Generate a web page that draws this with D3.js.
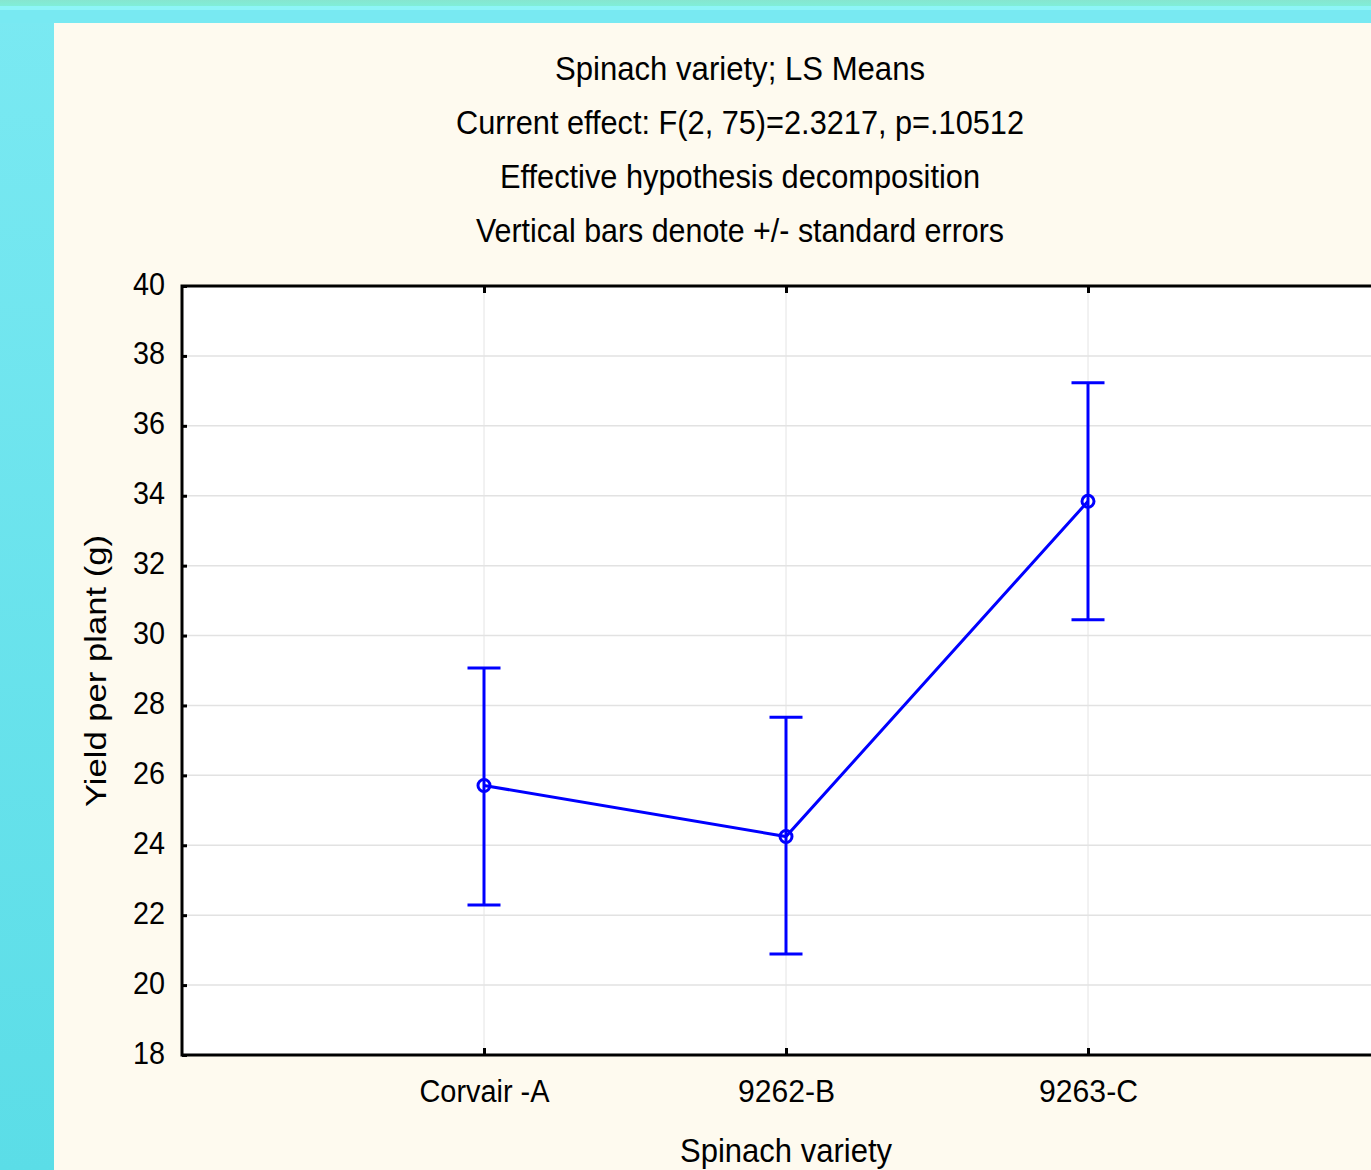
<!DOCTYPE html>
<html><head><meta charset="utf-8">
<script src="https://cdn.jsdelivr.net/npm/d3@7"></script>
<style>
html,body{margin:0;padding:0;overflow:hidden;background:#fff;}
svg{display:block;}
text{font-family:"Liberation Sans",Arial,sans-serif;fill:#000;}
</style></head>
<body>
<script>
const categories = ["Corvair -A", "9262-B", "9263-C"];
const means = [25.71, 24.25, 33.84];
const upper = [29.07, 27.66, 37.23];
const lower = [22.29, 20.89, 30.45];
const yTicks = [18, 20, 22, 24, 26, 28, 30, 32, 34, 36, 38, 40];
const titleLines = [
  "Spinach variety; LS Means",
  "Current effect: F(2, 75)=2.3217, p=.10512",
  "Effective hypothesis decomposition",
  "Vertical bars denote +/- standard errors"
];
const xLabel = "Spinach variety";
const yLabel = "Yield per plant (g)";

const W = 1371, H = 1170;
const FONT = "Liberation Sans, Arial, sans-serif";
const svg = d3.select("body").append("svg").attr("width", W).attr("height", H);
const defs = svg.append("defs");
const g1 = defs.append("linearGradient").attr("id","leftg").attr("x1",0).attr("y1",0).attr("x2",0).attr("y2",1);
g1.append("stop").attr("offset","0%").attr("stop-color","#7ae9f2");
g1.append("stop").attr("offset","100%").attr("stop-color","#5bdde7");
const g2 = defs.append("linearGradient").attr("id","topg").attr("x1",0).attr("y1",0).attr("x2",0).attr("y2",1);
g2.append("stop").attr("offset","0%").attr("stop-color","#86e6cf");
g2.append("stop").attr("offset","100%").attr("stop-color","#80eed8");

// backgrounds
svg.append("rect").attr("x",0).attr("y",0).attr("width",W).attr("height",H).attr("fill","url(#leftg)");
svg.append("rect").attr("x",0).attr("y",0).attr("width",W).attr("height",6).attr("fill","url(#topg)");
svg.append("rect").attr("x",0).attr("y",6).attr("width",W).attr("height",4).attr("fill","#8ef5f7");
svg.append("rect").attr("x",0).attr("y",10).attr("width",W).attr("height",13).attr("fill","#78e9f2");
svg.append("rect").attr("x",54).attr("y",23).attr("width",W-54).attr("height",H-23).attr("fill","#fefaef");

const pL = 182, pR = 1390, pT = 286, pB = 1055;
const x = d3.scaleLinear().domain([0, 4]).range([pL, pR]);
const y = d3.scaleLinear().domain([18, 40]).range([pB, pT]);

// plot area
svg.append("rect").attr("x",pL).attr("y",pT).attr("width",pR-pL).attr("height",pB-pT).attr("fill","#fff");

// gridlines
svg.append("g").selectAll("line").data(yTicks.slice(1,-1)).join("line")
  .attr("x1",pL).attr("x2",pR).attr("y1",d=>y(d)).attr("y2",d=>y(d))
  .attr("stroke","#e2e2e2").attr("stroke-width",1.5);
svg.append("g").selectAll("line").data(categories).join("line")
  .attr("x1",(d,i)=>x(i+1)).attr("x2",(d,i)=>x(i+1)).attr("y1",pT).attr("y2",pB)
  .attr("stroke","#e4e4e4").attr("stroke-width",1);

// y axis
const yAxis = d3.axisLeft(y).tickValues(yTicks).tickSize(-5).tickPadding(17);
const ya = svg.append("g").attr("transform",`translate(${pL},0)`).call(yAxis);
ya.select(".domain").remove();
ya.selectAll(".tick line").attr("stroke","#000").attr("stroke-width",3);
ya.selectAll(".tick text").attr("font-size",31).attr("font-family",FONT).attr("fill","#000")
  .attr("dy","0.26em").attr("textLength",32).attr("lengthAdjust","spacingAndGlyphs");

// x axis
const xLabW = [130, 97, 99];
const xAxis = d3.axisBottom(x).tickValues([1,2,3]).tickFormat(d=>categories[d-1]).tickSize(-7).tickPadding(25);
const xa = svg.append("g").attr("transform",`translate(0,${pB})`).call(xAxis);
xa.select(".domain").remove();
xa.selectAll(".tick line").attr("stroke","#000").attr("stroke-width",3);
xa.selectAll(".tick text").attr("font-size",31).attr("font-family",FONT).attr("fill","#000")
  .attr("textLength",d=>xLabW[d-1]).attr("lengthAdjust","spacingAndGlyphs");

// top ticks
const xTop = d3.axisTop(x).tickValues([1,2,3]).tickFormat("").tickSize(-7);
const xt = svg.append("g").attr("transform",`translate(0,${pT})`).call(xTop);
xt.select(".domain").remove();
xt.selectAll(".tick line").attr("stroke","#000").attr("stroke-width",3);

// frame
svg.append("path").attr("d",`M${pR},${pT}H${pL}V${pB}H${pR}`)
  .attr("fill","none").attr("stroke","#000").attr("stroke-width",3);

// line
const data = categories.map((c,i)=>({i, m:means[i], u:upper[i], l:lower[i]}));
svg.append("path").datum(data)
  .attr("d", d3.line().x(d=>x(d.i+1)).y(d=>y(d.m)))
  .attr("fill","none").attr("stroke","#0000ff").attr("stroke-width",3);

// error bars
const eb = svg.append("g").attr("stroke","#0000ff").attr("stroke-width",3);
eb.selectAll(".v").data(data).join("line").attr("class","v")
  .attr("x1",d=>x(d.i+1)).attr("x2",d=>x(d.i+1)).attr("y1",d=>y(d.u)).attr("y2",d=>y(d.l));
eb.selectAll(".cu").data(data).join("line").attr("class","cu")
  .attr("x1",d=>x(d.i+1)-16.5).attr("x2",d=>x(d.i+1)+16.5).attr("y1",d=>y(d.u)).attr("y2",d=>y(d.u));
eb.selectAll(".cl").data(data).join("line").attr("class","cl")
  .attr("x1",d=>x(d.i+1)-16.5).attr("x2",d=>x(d.i+1)+16.5).attr("y1",d=>y(d.l)).attr("y2",d=>y(d.l));
eb.selectAll("circle").data(data).join("circle")
  .attr("cx",d=>x(d.i+1)).attr("cy",d=>y(d.m)).attr("r",6).attr("fill","none");

// titles
const tw = [370, 568, 480, 528];
svg.append("g").selectAll("text").data(titleLines).join("text")
  .attr("x",740).attr("y",(d,i)=>80+i*54).attr("text-anchor","middle")
  .attr("font-size",33).attr("textLength",(d,i)=>tw[i]).attr("lengthAdjust","spacingAndGlyphs")
  .text(d=>d);

// axis labels
svg.append("text").attr("x",786).attr("y",1162).attr("text-anchor","middle").attr("font-size",33)
  .attr("textLength",212).attr("lengthAdjust","spacingAndGlyphs").text(xLabel);
svg.append("text").attr("transform","translate(106,671) rotate(-90)").attr("text-anchor","middle")
  .attr("font-size",30).attr("textLength",272).attr("lengthAdjust","spacingAndGlyphs").text(yLabel);
</script>
</body></html>
